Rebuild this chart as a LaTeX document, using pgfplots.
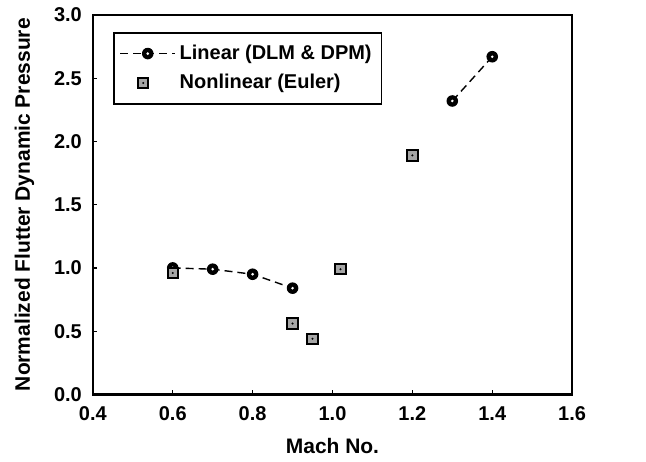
\documentclass[border=0pt]{standalone}
\usepackage{pgfplots}
\pgfplotsset{compat=1.18}
\usepackage{fontspec}
\setmainfont{Liberation Sans}
% square with a small black dot in the middle
\pgfdeclareplotmark{dotsquare}{%
  \pgfpathrectangle{\pgfqpoint{-\pgfplotmarksize}{-\pgfplotmarksize}}{\pgfqpoint{2\pgfplotmarksize}{2\pgfplotmarksize}}%
  \pgfusepathqfillstroke
  \begin{pgfscope}
  \pgfpathcircle{\pgfpointorigin}{0.22\pgfplotmarksize}%
  \pgfsetfillcolor{black}%
  \pgfusepathqfill
  \end{pgfscope}
}
% thick black ring with a white centre
\pgfdeclareplotmark{ringdot}{%
  \begin{pgfscope}
  \pgfpathcircle{\pgfpointorigin}{\pgfplotmarksize}%
  \pgfsetfillcolor{black}%
  \pgfusepathqfill
  \pgfpathcircle{\pgfpointorigin}{0.25\pgfplotmarksize}%
  \pgfsetfillcolor{white}%
  \pgfusepathqfill
  \end{pgfscope}
}
\pgfplotsset{
  longline/.style={legend image code/.code={\draw[mark repeat=2,mark phase=2,##1]
        plot coordinates {(0cm,0cm)(0.48cm,0cm)(0.96cm,0cm)};}},
  squarelegend/.style={legend image code/.code={\draw[mark repeat=2,mark phase=2,##1]
        plot coordinates {(0cm,0cm)(0.40cm,0cm)(0.96cm,0cm)};}},
}
\begin{document}
\begin{tikzpicture}
\begin{axis}[
    scale only axis,
    width=240pt, height=190pt,
    xmin=0.4, xmax=1.6, ymin=0, ymax=3.0,
    xtick={0.4,0.6,...,1.6},
    ytick={0,0.5,...,3.0},
    minor tick num=0,
    tick align=inside,
    major tick length=2pt,
    xtick pos=bottom, ytick pos=left,
    axis line style={line width=1.2pt},
    tick style={black, line width=0.6pt},
    x tick label style={yshift=-2.5pt, /pgf/number format/.cd, fixed, fixed zerofill, precision=1},
    y tick label style={xshift=-2pt, /pgf/number format/.cd, fixed, fixed zerofill, precision=1},
    /pgf/number format/assume math mode=true,
    ticklabel style={font=\bfseries\normalsize},
    xlabel={\bfseries Mach No.},
    ylabel={\bfseries Normalized Flutter Dynamic Pressure},
    label style={font=\bfseries\fontsize{10.5}{12}\selectfont},
    xlabel style={yshift=-2pt},
    ylabel style={yshift=3pt},
    unbounded coords=jump,
    legend style={at={(0.042,0.955)}, anchor=north west, draw=black, line width=0.8pt,
        font=\bfseries\normalsize, row sep=2pt, inner xsep=3pt, inner ysep=4pt},
    legend cell align=left,
]
\addplot[black, line width=0.7pt, dash pattern=on 4pt off 2.5pt,
    mark=ringdot, mark size=2.9pt, mark options={solid}, longline]
coordinates {(0.6,1.00)(0.7,0.99)(0.8,0.95)(0.9,0.84)(1.1,nan)(1.3,2.32)(1.4,2.67)};
\addlegendentry{Linear (DLM \& DPM)}
\addplot[only marks, mark=dotsquare, mark size=2.6pt,
    mark options={fill=gray!70, draw=black, line width=1pt}, squarelegend]
coordinates {(0.6,0.96)(0.9,0.56)(0.95,0.44)(1.02,0.99)(1.2,1.89)};
\addlegendentry{Nonlinear (Euler)}
\end{axis}
\pgfresetboundingbox
\path[use as bounding box] ([shift={(-46.5pt,-33.5pt)}]current axis.south west) rectangle ([shift={(37pt,7.5pt)}]current axis.north east);
\end{tikzpicture}
\end{document}
